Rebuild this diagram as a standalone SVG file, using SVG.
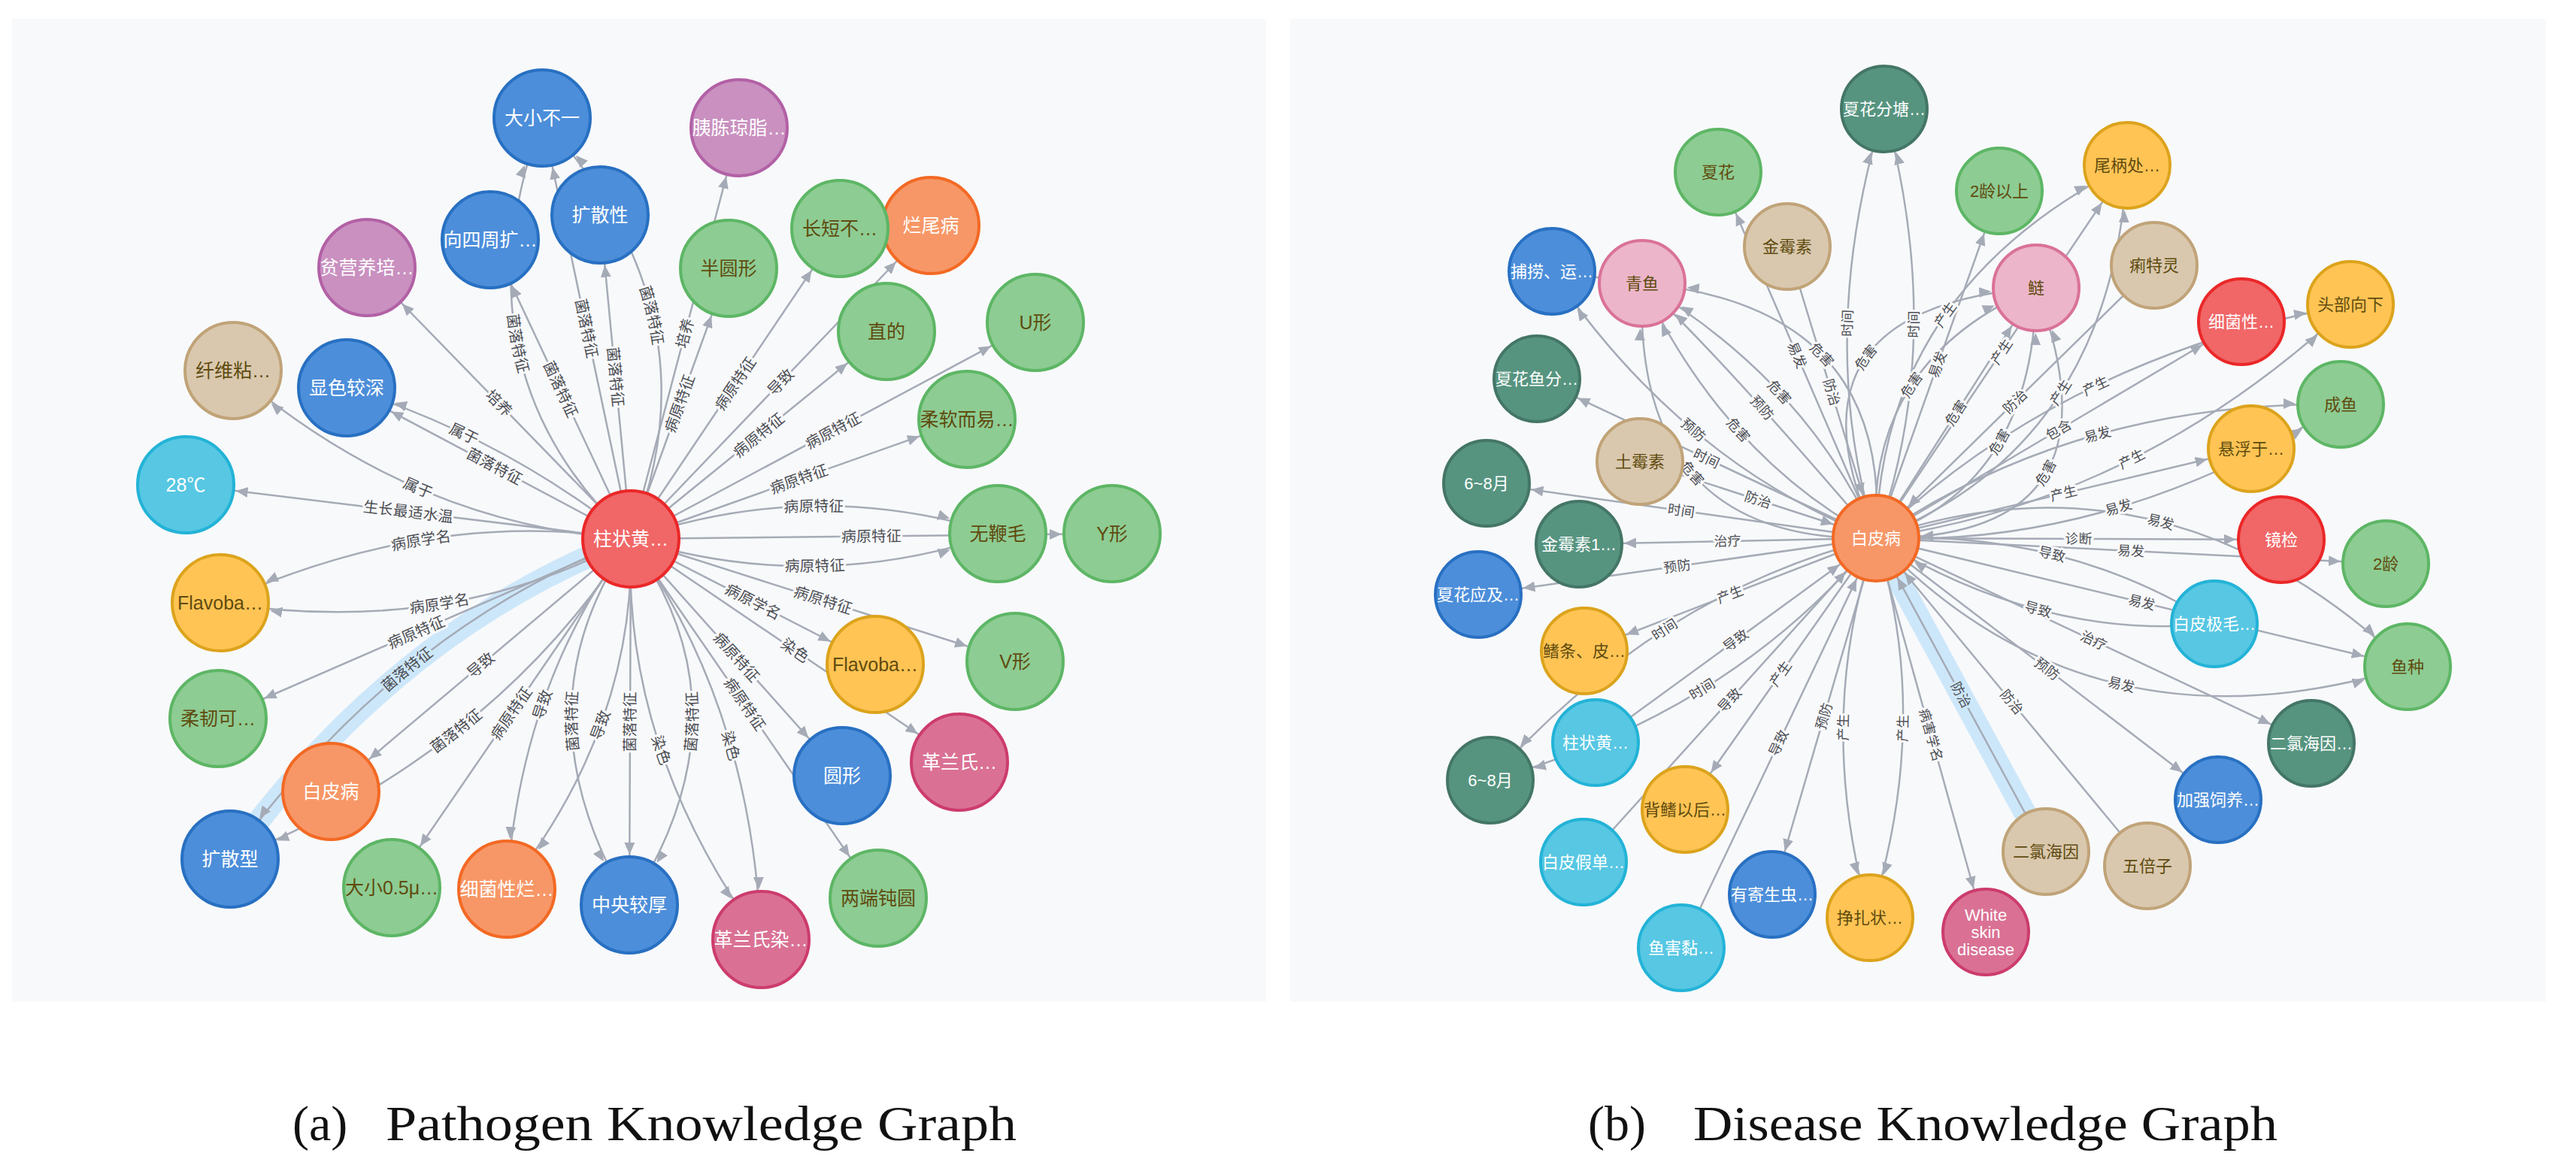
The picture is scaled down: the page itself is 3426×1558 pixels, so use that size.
<svg xmlns="http://www.w3.org/2000/svg" width="3426" height="1558" viewBox="0 0 3426 1558">
<style>
.e{fill:none;stroke:#a5abb6;stroke-width:2.5}
.aL{marker-end:url(#mL)}
.aR{marker-end:url(#mR)}
.hl{fill:none;stroke:#cde7fa;stroke-width:30;stroke-linecap:round}
.lb{font-family:"Liberation Sans","Noto Sans CJK SC",sans-serif;fill:#4d4f55;stroke:#f8f9fb;stroke-width:6px;paint-order:stroke;stroke-linejoin:round;text-anchor:middle}
.lL{font-size:20px}
.lR{font-size:18px}
.nd circle{stroke-width:4}
.nd text{font-family:"Liberation Sans","Noto Sans CJK SC",sans-serif;text-anchor:middle}
.nL text{font-size:25px}
.nR text{font-size:22px}
.w text{fill:#ffffff}
.k text{fill:#5f4b0f}
.blue circle{fill:#4c8eda;stroke:#2870c2}
.green circle{fill:#8dcc93;stroke:#5db665}
.purple circle{fill:#c990c0;stroke:#b261a5}
.tan circle{fill:#d9c8ae;stroke:#c0a378}
.cyan circle{fill:#57c7e3;stroke:#23b3d7}
.yellow circle{fill:#ffc454;stroke:#dca31c}
.orange circle{fill:#f79767;stroke:#f36924}
.red circle{fill:#f16667;stroke:#eb2728}
.mag circle{fill:#da7194;stroke:#cc3c6c}
.dg circle{fill:#569480;stroke:#447666}
.pink circle{fill:#ecb5c9;stroke:#da7298}
.cap{font-family:"Liberation Serif",serif;font-size:66px;fill:#111111}
</style>
<defs>
<marker id="mL" viewBox="0 0 100 14" markerWidth="100" markerHeight="14" refX="83" refY="7" orient="auto" markerUnits="userSpaceOnUse"><path d="M0,0 L16,7 L0,14 Z" fill="#a5abb6"/></marker>
<marker id="mR" viewBox="0 0 100 14" markerWidth="100" markerHeight="14" refX="76" refY="7" orient="auto" markerUnits="userSpaceOnUse"><path d="M0,0 L16,7 L0,14 Z" fill="#a5abb6"/></marker>
<path id="le1" d="M247,645 L839,717"/>
<path id="le2" d="M310,493 Q549,699 839,717"/>
<path id="le3" d="M461,516 Q669,581 839,717"/>
<path id="le4" d="M461,516 L839,717"/>
<path id="le5" d="M488,356 L839,717"/>
<path id="le6" d="M652,319 L839,717"/>
<path id="le7" d="M721,157 Q598,491 839,717"/>
<path id="le8" d="M721,157 L839,717"/>
<path id="le9" d="M721,157 Q960,421 839,717"/>
<path id="le10" d="M798,286 L839,717"/>
<path id="le28" d="M837,1204 L839,717"/>
<path id="le29" d="M837,1204 Q1004,947 839,717"/>
<path id="le30" d="M837,1204 Q682,942 839,717"/>
<path id="le31" d="M674,1183 Q692,908 839,717"/>
<path id="le32" d="M674,1183 Q846,966 839,717"/>
<path id="le33" d="M521,1181 L839,717"/>
<path id="le34" d="M440,1053 L839,717"/>
<path id="le35" d="M306,1143 Q656,1004 839,717"/>
<path id="le36" d="M306,1143 Q525,838 839,717"/>
<path id="le37" d="M290,956 L839,717"/>
<path id="le38" d="M293,802 Q597,849 839,717"/>
<path id="le39" d="M293,802 Q570,675 839,717"/>
<path id="lr3" d="M2285,229 L2495,716"/>
<path id="lr5" d="M2184,377 Q2517,408 2495,716"/>
<path id="lr6" d="M2184,377 Q2403,508 2495,716"/>
<path id="lr7" d="M2184,377 Q2285,470 2495,716"/>
<path id="lr8" d="M2184,377 Q2295,610 2495,716"/>
<path id="lr9" d="M2184,377 Q2170,723 2495,716"/>
<path id="lr10" d="M2064,361 Q2237,616 2495,716"/>
<path id="lr12" d="M2044,504 L2495,716"/>
<path id="lr16" d="M1977,643 L2495,716"/>
<path id="lr17" d="M2100,724 L2495,716"/>
<path id="lr18" d="M1966,791 L2495,716"/>
<path id="lr19" d="M2107,866 L2495,716"/>
<path id="lr20" d="M1982,1038 Q2204,789 2495,716"/>
<path id="lr21" d="M1982,1038 Q2303,949 2495,716"/>
<path id="lr24" d="M2241,1077 L2495,716"/>
<path id="lr26" d="M2357,1190 L2495,716"/>
<path id="lr27" d="M2487,1221 Q2412,957 2495,716"/>
<path id="lr28" d="M2487,1221 Q2571,957 2495,716"/>
<path id="lr30" d="M2495,716 L2721,1133"/>
<path id="lr31" d="M2495,716 L2856,1152"/>
<path id="lr36" d="M2495,716 Q2716,853 2945,830"/>
<path id="lr37" d="M2495,716 Q2750,705 2945,830"/>
<path id="lr49" d="M2495,716 L2865,353"/>
</defs>
<rect x="0" y="0" width="3426" height="1558" fill="#ffffff"/>
<rect x="16" y="25" width="1668" height="1308" fill="#f8f9fb"/>
<rect x="1716" y="25" width="1670" height="1308" fill="#f8f9fb"/>
<g id="captions">
<text class="cap" y="1517"><tspan x="389">(a)</tspan><tspan x="513" textLength="839" lengthAdjust="spacingAndGlyphs">Pathogen Knowledge Graph</tspan></text>
<text class="cap" y="1517"><tspan x="2112">(b)</tspan><tspan x="2252" textLength="777" lengthAdjust="spacingAndGlyphs">Disease Knowledge Graph</tspan></text>
</g>
<g id="highlights">
<path class="hl" d="M839,717 Q525,838 306,1143"/>
<path class="hl" d="M2721,1133 L2495,716"/>
</g>
<g id="connectors">
<path id="e1" class="e aL" d="M839,717 L247,645"/>
<path id="e2" class="e aL" d="M839,717 Q549,699 310,493"/>
<path id="e3" class="e aL" d="M839,717 Q669,581 461,516"/>
<path id="e4" class="e aL" d="M839,717 L461,516"/>
<path id="e5" class="e aL" d="M839,717 L488,356"/>
<path id="e6" class="e aL" d="M839,717 L652,319"/>
<path id="e7" class="e aL" d="M839,717 Q598,491 721,157"/>
<path id="e8" class="e aL" d="M839,717 L721,157"/>
<path id="e9" class="e aL" d="M839,717 Q960,421 721,157"/>
<path id="e10" class="e aL" d="M839,717 L798,286"/>
<path id="e11" class="e aL" d="M839,717 L983,170"/>
<path id="e12" class="e aL" d="M839,717 L969,357"/>
<path id="e13" class="e aL" d="M839,717 L1117,304"/>
<path id="e14" class="e aL" d="M839,717 L1238,300"/>
<path id="e15" class="e aL" d="M839,717 L1179,441"/>
<path id="e16" class="e aL" d="M839,717 L1377,429"/>
<path id="e17" class="e aL" d="M839,717 L1286,558"/>
<path id="e18" class="e aL" d="M839,717 Q1083,633 1327,710"/>
<path id="e19" class="e aL" d="M839,717 L1479,710"/>
<path id="e20" class="e aL" d="M839,717 Q1083,793 1327,710"/>
<path id="e21" class="e aL" d="M839,717 L1350,880"/>
<path id="e22" class="e aL" d="M839,717 L1164,884"/>
<path id="e23" class="e aL" d="M839,717 L1276,1014"/>
<path id="e24" class="e aL" d="M839,717 L1120,1032"/>
<path id="e25" class="e aL" d="M839,717 L1168,1195"/>
<path id="e26" class="e aL" d="M839,717 Q1000,941 1012,1250"/>
<path id="e27" class="e aL" d="M839,717 Q827,995 1012,1250"/>
<path id="e28" class="e aL" d="M839,717 L837,1204"/>
<path id="e29" class="e aL" d="M839,717 Q1004,947 837,1204"/>
<path id="e30" class="e aL" d="M839,717 Q682,942 837,1204"/>
<path id="e31" class="e aL" d="M839,717 Q692,908 674,1183"/>
<path id="e32" class="e aL" d="M839,717 Q846,966 674,1183"/>
<path id="e33" class="e aL" d="M839,717 L521,1181"/>
<path id="e34" class="e aL" d="M839,717 L440,1053"/>
<path id="e35" class="e aL" d="M839,717 Q656,1004 306,1143"/>
<path id="e36" class="e aL" d="M839,717 Q525,838 306,1143"/>
<path id="e37" class="e aL" d="M839,717 L290,956"/>
<path id="e38" class="e aL" d="M839,717 Q597,849 293,802"/>
<path id="e39" class="e aL" d="M839,717 Q570,675 293,802"/>
<path id="r1" class="e aR" d="M2495,716 Q2413,450 2506,145"/>
<path id="r2" class="e aR" d="M2495,716 Q2590,450 2506,145"/>
<path id="r3" class="e aR" d="M2495,716 L2285,229"/>
<path id="r4" class="e aR" d="M2377,328 L2495,716"/>
<path id="r5" class="e aR" d="M2495,716 Q2517,408 2184,377"/>
<path id="r6" class="e aR" d="M2495,716 Q2403,508 2184,377"/>
<path id="r7" class="e aR" d="M2495,716 Q2285,470 2184,377"/>
<path id="r8" class="e aR" d="M2495,716 Q2295,610 2184,377"/>
<path id="r9" class="e aR" d="M2495,716 Q2170,723 2184,377"/>
<path id="r10" class="e aR" d="M2495,716 Q2237,616 2064,361"/>
<path id="r11" class="e aR" d="M2184,377 L2064,361"/>
<path id="r12" class="e aR" d="M2495,716 L2044,504"/>
<path id="r15" class="e aR" d="M2181,614 L2495,716"/>
<path id="r16" class="e aR" d="M2495,716 L1977,643"/>
<path id="r17" class="e aR" d="M2495,716 L2100,724"/>
<path id="r18" class="e aR" d="M2495,716 L1966,791"/>
<path id="r19" class="e aR" d="M2495,716 L2107,866"/>
<path id="r20" class="e aR" d="M2495,716 Q2204,789 1982,1038"/>
<path id="r21" class="e aR" d="M2495,716 Q2303,949 1982,1038"/>
<path id="r22" class="e aR" d="M2122,988 L2495,716"/>
<path id="r23" class="e aR" d="M2106,1147 L2495,716"/>
<path id="r24" class="e aR" d="M2495,716 L2241,1077"/>
<path id="r25" class="e aR" d="M2236,1261 L2495,716"/>
<path id="r26" class="e aR" d="M2495,716 L2357,1190"/>
<path id="r27" class="e aR" d="M2495,716 Q2412,957 2487,1221"/>
<path id="r28" class="e aR" d="M2495,716 Q2571,957 2487,1221"/>
<path id="r29" class="e aR" d="M2495,716 L2641,1240"/>
<path id="r30" class="e aR" d="M2721,1133 L2495,716"/>
<path id="r31" class="e aR" d="M2856,1152 L2495,716"/>
<path id="r32" class="e aR" d="M2495,716 L2950,1064"/>
<path id="r33" class="e aR" d="M2495,716 L3074,989"/>
<path id="r34" class="e aR" d="M2495,716 Q2780,1017 3202,887"/>
<path id="r35" class="e aR" d="M2495,716 L3202,887"/>
<path id="r36" class="e aR" d="M2945,830 Q2716,853 2495,716"/>
<path id="r37" class="e aR" d="M2945,830 Q2750,705 2495,716"/>
<path id="r38" class="e aR" d="M2495,716 L3034,718"/>
<path id="r39" class="e aR" d="M2495,716 L3173,750"/>
<path id="r40" class="e aR" d="M2495,716 Q2882,583 3202,887"/>
<path id="r41" class="e aR" d="M2495,716 Q2812,729 3113,538"/>
<path id="r42" class="e aR" d="M2495,716 Q2762,533 3113,538"/>
<path id="r43" class="e aR" d="M2495,716 L2994,597"/>
<path id="r44" class="e aR" d="M2495,716 Q2835,719 2708,383"/>
<path id="r45" class="e aR" d="M2495,716 Q2846,668 3126,405"/>
<path id="r46" class="e aR" d="M2495,716 Q2744,476 3126,405"/>
<path id="r47" class="e aR" d="M2495,716 L2981,428"/>
<path id="r48" class="e aR" d="M2495,716 Q2808,594 2829,220"/>
<path id="r49" class="e aR" d="M2865,353 L2495,716"/>
<path id="r50" class="e aR" d="M2495,716 Q2705,647 2708,383"/>
<path id="r51" class="e aR" d="M2495,716 L2708,383"/>
<path id="r52" class="e aR" d="M2495,716 L2829,220"/>
<path id="r53" class="e aR" d="M2495,716 Q2502,384 2829,220"/>
<path id="r54" class="e aR" d="M2495,716 Q2355,411 2708,383"/>
<path id="r55" class="e aR" d="M2495,716 L2659,254"/>
<path id="r56" class="e aR" d="M2495,716 Q2480,480 2708,383"/>
<g class="lb lL">
<text dy="0.35em"><textPath href="#le1" startOffset="50%">生长最适水温</textPath></text>
<text dy="0.35em"><textPath href="#le2" startOffset="50%">属于</textPath></text>
<text dy="0.35em"><textPath href="#le3" startOffset="39%">属于</textPath></text>
<text dy="0.35em"><textPath href="#le4" startOffset="52%">菌落特征</textPath></text>
<text dy="0.35em"><textPath href="#le5" startOffset="50%">培养</textPath></text>
<text dy="0.35em"><textPath href="#le6" startOffset="50%">菌落特征</textPath></text>
<text dy="0.35em"><textPath href="#le7" startOffset="50%">菌落特征</textPath></text>
<text dy="0.35em"><textPath href="#le8" startOffset="50%">菌落特征</textPath></text>
<text dy="0.35em"><textPath href="#le9" startOffset="50%">菌落特征</textPath></text>
<text dy="0.35em"><textPath href="#le10" startOffset="50%">菌落特征</textPath></text>
<text dy="0.35em"><textPath href="#e11" startOffset="50%">培养</textPath></text>
<text dy="0.35em"><textPath href="#e12" startOffset="50%">病原特征</textPath></text>
<text dy="0.35em"><textPath href="#e13" startOffset="50%">病原特征</textPath></text>
<text dy="0.35em"><textPath href="#e14" startOffset="50%">导致</textPath></text>
<text dy="0.35em"><textPath href="#e15" startOffset="50%">病原特征</textPath></text>
<text dy="0.35em"><textPath href="#e16" startOffset="50%">病原特征</textPath></text>
<text dy="0.35em"><textPath href="#e17" startOffset="50%">病原特征</textPath></text>
<text dy="0.35em"><textPath href="#e18" startOffset="50%">病原特征</textPath></text>
<text dy="0.35em"><textPath href="#e19" startOffset="50%">病原特征</textPath></text>
<text dy="0.35em"><textPath href="#e20" startOffset="50%">病原特征</textPath></text>
<text dy="0.35em"><textPath href="#e21" startOffset="50%">病原特征</textPath></text>
<text dy="0.35em"><textPath href="#e22" startOffset="50%">病原学名</textPath></text>
<text dy="0.35em"><textPath href="#e23" startOffset="50%">染色</textPath></text>
<text dy="0.35em"><textPath href="#e24" startOffset="50%">病原特征</textPath></text>
<text dy="0.35em"><textPath href="#e25" startOffset="46%">病原特征</textPath></text>
<text dy="0.35em"><textPath href="#e26" startOffset="54%">染色</textPath></text>
<text dy="0.35em"><textPath href="#e27" startOffset="50%">染色</textPath></text>
<text dy="0.35em"><textPath href="#le28" startOffset="50%">菌落特征</textPath></text>
<text dy="0.35em"><textPath href="#le29" startOffset="50%">菌落特征</textPath></text>
<text dy="0.35em"><textPath href="#le30" startOffset="50%">菌落特征</textPath></text>
<text dy="0.35em"><textPath href="#le31" startOffset="50%">导致</textPath></text>
<text dy="0.35em"><textPath href="#le32" startOffset="50%">导致</textPath></text>
<text dy="0.35em"><textPath href="#le33" startOffset="50%">病原特征</textPath></text>
<text dy="0.35em"><textPath href="#le34" startOffset="50%">导致</textPath></text>
<text dy="0.35em"><textPath href="#le35" startOffset="50%">菌落特征</textPath></text>
<text dy="0.35em" style="stroke:#cde7fa"><textPath href="#le36" startOffset="50%">菌落特征</textPath></text>
<text dy="0.35em"><textPath href="#le37" startOffset="48%">病原特征</textPath></text>
<text dy="0.35em"><textPath href="#le38" startOffset="52%">病原学名</textPath></text>
<text dy="0.35em"><textPath href="#le39" startOffset="50%">病原学名</textPath></text>
</g>
<g class="lb lR">
<text dy="0.35em"><textPath href="#r1" startOffset="50%">时间</textPath></text>
<text dy="0.35em"><textPath href="#r2" startOffset="50%">时间</textPath></text>
<text dy="0.35em"><textPath href="#lr3" startOffset="50%">易发</textPath></text>
<text dy="0.35em"><textPath href="#r4" startOffset="50%">防治</textPath></text>
<text dy="0.35em"><textPath href="#lr5" startOffset="50%">危害</textPath></text>
<text dy="0.35em"><textPath href="#lr6" startOffset="50%">危害</textPath></text>
<text dy="0.35em"><textPath href="#lr7" startOffset="50%">预防</textPath></text>
<text dy="0.35em"><textPath href="#lr8" startOffset="50%">危害</textPath></text>
<text dy="0.35em"><textPath href="#lr9" startOffset="50%">危害</textPath></text>
<text dy="0.35em"><textPath href="#lr10" startOffset="50%">预防</textPath></text>
<text dy="0.35em"><textPath href="#lr12" startOffset="50%">时间</textPath></text>
<text dy="0.35em"><textPath href="#r15" startOffset="50%">防治</textPath></text>
<text dy="0.35em"><textPath href="#lr16" startOffset="50%">时间</textPath></text>
<text dy="0.35em"><textPath href="#lr17" startOffset="50%">治疗</textPath></text>
<text dy="0.35em"><textPath href="#lr18" startOffset="50%">预防</textPath></text>
<text dy="0.35em"><textPath href="#lr19" startOffset="50%">产生</textPath></text>
<text dy="0.35em"><textPath href="#lr20" startOffset="50%">时间</textPath></text>
<text dy="0.35em"><textPath href="#lr21" startOffset="50%">时间</textPath></text>
<text dy="0.35em"><textPath href="#r22" startOffset="50%">导致</textPath></text>
<text dy="0.35em"><textPath href="#r23" startOffset="50%">导致</textPath></text>
<text dy="0.35em"><textPath href="#lr24" startOffset="50%">产生</textPath></text>
<text dy="0.35em"><textPath href="#r25" startOffset="50%">导致</textPath></text>
<text dy="0.35em"><textPath href="#lr26" startOffset="50%">预防</textPath></text>
<text dy="0.35em"><textPath href="#lr27" startOffset="50%">产生</textPath></text>
<text dy="0.35em"><textPath href="#lr28" startOffset="50%">产生</textPath></text>
<text dy="0.35em"><textPath href="#r29" startOffset="50%">病害学名</textPath></text>
<text dy="0.35em" style="stroke:#cde7fa"><textPath href="#lr30" startOffset="50%">防治</textPath></text>
<text dy="0.35em"><textPath href="#lr31" startOffset="50%">防治</textPath></text>
<text dy="0.35em"><textPath href="#r32" startOffset="50%">预防</textPath></text>
<text dy="0.35em"><textPath href="#r33" startOffset="50%">治疗</textPath></text>
<text dy="0.35em"><textPath href="#r34" startOffset="50%">易发</textPath></text>
<text dy="0.35em"><textPath href="#r35" startOffset="50%">易发</textPath></text>
<text dy="0.35em"><textPath href="#lr36" startOffset="50%">导致</textPath></text>
<text dy="0.35em"><textPath href="#lr37" startOffset="50%">导致</textPath></text>
<text dy="0.35em"><textPath href="#r38" startOffset="50%">诊断</textPath></text>
<text dy="0.35em"><textPath href="#r39" startOffset="50%">易发</textPath></text>
<text dy="0.35em"><textPath href="#r40" startOffset="50%">易发</textPath></text>
<text dy="0.35em"><textPath href="#r41" startOffset="50%">易发</textPath></text>
<text dy="0.35em"><textPath href="#r42" startOffset="50%">易发</textPath></text>
<text dy="0.35em"><textPath href="#r43" startOffset="50%">产生</textPath></text>
<text dy="0.35em"><textPath href="#r44" startOffset="50%">危害</textPath></text>
<text dy="0.35em"><textPath href="#r45" startOffset="50%">产生</textPath></text>
<text dy="0.35em"><textPath href="#r46" startOffset="50%">产生</textPath></text>
<text dy="0.35em"><textPath href="#r47" startOffset="50%">包含</textPath></text>
<text dy="0.35em"><textPath href="#r48" startOffset="50%">产生</textPath></text>
<text dy="0.35em"><textPath href="#lr49" startOffset="50%">防治</textPath></text>
<text dy="0.35em"><textPath href="#r50" startOffset="50%">危害</textPath></text>
<text dy="0.35em"><textPath href="#r51" startOffset="50%">危害</textPath></text>
<text dy="0.35em"><textPath href="#r52" startOffset="50%">产生</textPath></text>
<text dy="0.35em"><textPath href="#r53" startOffset="50%">产生</textPath></text>
<text dy="0.35em"><textPath href="#r54" startOffset="50%">危害</textPath></text>
<text dy="0.35em"><textPath href="#r55" startOffset="50%">易发</textPath></text>
<text dy="0.35em"><textPath href="#r56" startOffset="50%">危害</textPath></text>
</g>
</g>
<g id="nodes-a">
<g id="n-daxiao" class="nd nL blue w"><circle cx="721" cy="157" r="64"/><text x="721" y="157" dy="0.35em">大小不一</text></g>
<g id="n-kuosanxing" class="nd nL blue w"><circle cx="798" cy="286" r="64"/><text x="798" y="286" dy="0.35em">扩散性</text></g>
<g id="n-xiangsizhou" class="nd nL blue w"><circle cx="652" cy="319" r="64"/><text x="652" y="319" dy="0.35em">向四周扩…</text></g>
<g id="n-pinyingyang" class="nd nL purple w"><circle cx="488" cy="356" r="64"/><text x="488" y="356" dy="0.35em">贫营养培…</text></g>
<g id="n-xianwei" class="nd nL tan k"><circle cx="310" cy="493" r="64"/><text x="310" y="493" dy="0.35em">纤维粘…</text></g>
<g id="n-xianse" class="nd nL blue w"><circle cx="461" cy="516" r="64"/><text x="461" y="516" dy="0.35em">显色较深</text></g>
<g id="n-28c" class="nd nL cyan w"><circle cx="247" cy="645" r="64"/><text x="247" y="645" dy="0.35em">28℃</text></g>
<g id="n-yidong" class="nd nL purple w"><circle cx="983" cy="170" r="64"/><text x="983" y="170" dy="0.35em">胰胨琼脂…</text></g>
<g id="n-banyuan" class="nd nL green k"><circle cx="969" cy="357" r="64"/><text x="969" y="357" dy="0.35em">半圆形</text></g>
<g id="n-lanweibing" class="nd nL orange w"><circle cx="1238" cy="300" r="64"/><text x="1238" y="300" dy="0.35em">烂尾病</text></g>
<g id="n-changduan" class="nd nL green k"><circle cx="1117" cy="304" r="64"/><text x="1117" y="304" dy="0.35em">长短不…</text></g>
<g id="n-zhide" class="nd nL green k"><circle cx="1179" cy="441" r="64"/><text x="1179" y="441" dy="0.35em">直的</text></g>
<g id="n-uxing" class="nd nL green k"><circle cx="1377" cy="429" r="64"/><text x="1377" y="429" dy="0.35em">U形</text></g>
<g id="n-rouruan" class="nd nL green k"><circle cx="1286" cy="558" r="64"/><text x="1286" y="558" dy="0.35em">柔软而易…</text></g>
<g id="n-wubianmao" class="nd nL green k"><circle cx="1327" cy="710" r="64"/><text x="1327" y="710" dy="0.35em">无鞭毛</text></g>
<g id="n-yxing" class="nd nL green k"><circle cx="1479" cy="710" r="64"/><text x="1479" y="710" dy="0.35em">Y形</text></g>
<g id="n-flavo-r" class="nd nL yellow k"><circle cx="1164" cy="884" r="64"/><text x="1164" y="884" dy="0.35em">Flavoba…</text></g>
<g id="n-vxing" class="nd nL green k"><circle cx="1350" cy="880" r="64"/><text x="1350" y="880" dy="0.35em">V形</text></g>
<g id="n-yuanxing" class="nd nL blue w"><circle cx="1120" cy="1032" r="64"/><text x="1120" y="1032" dy="0.35em">圆形</text></g>
<g id="n-gelan1" class="nd nL mag w"><circle cx="1276" cy="1014" r="64"/><text x="1276" y="1014" dy="0.35em">革兰氏…</text></g>
<g id="n-liangduan" class="nd nL green k"><circle cx="1168" cy="1195" r="64"/><text x="1168" y="1195" dy="0.35em">两端钝圆</text></g>
<g id="n-zhongyang" class="nd nL blue w"><circle cx="837" cy="1204" r="64"/><text x="837" y="1204" dy="0.35em">中央较厚</text></g>
<g id="n-gelan2" class="nd nL mag w"><circle cx="1012" cy="1250" r="64"/><text x="1012" y="1250" dy="0.35em">革兰氏染…</text></g>
<g id="n-flavo-l" class="nd nL yellow k"><circle cx="293" cy="802" r="64"/><text x="293" y="802" dy="0.35em">Flavoba…</text></g>
<g id="n-rouren" class="nd nL green k"><circle cx="290" cy="956" r="64"/><text x="290" y="956" dy="0.35em">柔韧可…</text></g>
<g id="n-baipibing-a" class="nd nL orange w"><circle cx="440" cy="1053" r="64"/><text x="440" y="1053" dy="0.35em">白皮病</text></g>
<g id="n-kuosanxing2" class="nd nL blue w"><circle cx="306" cy="1143" r="64"/><text x="306" y="1143" dy="0.35em">扩散型</text></g>
<g id="n-daxiao05" class="nd nL green k"><circle cx="521" cy="1181" r="64"/><text x="521" y="1181" dy="0.35em">大小0.5μ…</text></g>
<g id="n-xijunlan" class="nd nL orange w"><circle cx="674" cy="1183" r="64"/><text x="674" y="1183" dy="0.35em">细菌性烂…</text></g>
<g id="n-zhuzhuang" class="nd nL red w"><circle cx="839" cy="717" r="64"/><text x="839" y="717" dy="0.35em">柱状黄…</text></g>
</g>
<g id="nodes-b">
<g id="m-xiahuafen" class="nd nR dg w"><circle cx="2506" cy="145" r="57"/><text x="2506" y="145" dy="0.35em">夏花分塘…</text></g>
<g id="m-xiahua" class="nd nR green k"><circle cx="2285" cy="229" r="57"/><text x="2285" y="229" dy="0.35em">夏花</text></g>
<g id="m-jinmeisu" class="nd nR tan k"><circle cx="2377" cy="328" r="57"/><text x="2377" y="328" dy="0.35em">金霉素</text></g>
<g id="m-bulao" class="nd nR blue w"><circle cx="2064" cy="361" r="57"/><text x="2064" y="361" dy="0.35em">捕捞、运…</text></g>
<g id="m-qingyu" class="nd nR pink k"><circle cx="2184" cy="377" r="57"/><text x="2184" y="377" dy="0.35em">青鱼</text></g>
<g id="m-xiahuayu" class="nd nR dg w"><circle cx="2044" cy="504" r="57"/><text x="2044" y="504" dy="0.35em">夏花鱼分…</text></g>
<g id="m-tumeisu" class="nd nR tan k"><circle cx="2181" cy="614" r="57"/><text x="2181" y="614" dy="0.35em">土霉素</text></g>
<g id="m-68a" class="nd nR dg w"><circle cx="1977" cy="643" r="57"/><text x="1977" y="643" dy="0.35em">6~8月</text></g>
<g id="m-jinmeisu1" class="nd nR dg w"><circle cx="2100" cy="724" r="57"/><text x="2100" y="724" dy="0.35em">金霉素1…</text></g>
<g id="m-xiahuaying" class="nd nR blue w"><circle cx="1966" cy="791" r="57"/><text x="1966" y="791" dy="0.35em">夏花应及…</text></g>
<g id="m-qitiao" class="nd nR yellow k"><circle cx="2107" cy="866" r="57"/><text x="2107" y="866" dy="0.35em">鳍条、皮…</text></g>
<g id="m-zhuzhuang" class="nd nR cyan w"><circle cx="2122" cy="988" r="57"/><text x="2122" y="988" dy="0.35em">柱状黄…</text></g>
<g id="m-68b" class="nd nR dg w"><circle cx="1982" cy="1038" r="57"/><text x="1982" y="1038" dy="0.35em">6~8月</text></g>
<g id="m-beiqi" class="nd nR yellow k"><circle cx="2241" cy="1077" r="57"/><text x="2241" y="1077" dy="0.35em">背鳍以后…</text></g>
<g id="m-baipijia" class="nd nR cyan w"><circle cx="2106" cy="1147" r="57"/><text x="2106" y="1147" dy="0.35em">白皮假单…</text></g>
<g id="m-youji" class="nd nR blue w"><circle cx="2357" cy="1190" r="57"/><text x="2357" y="1190" dy="0.35em">有寄生虫…</text></g>
<g id="m-yuhai" class="nd nR cyan w"><circle cx="2236" cy="1261" r="57"/><text x="2236" y="1261" dy="0.35em">鱼害黏…</text></g>
<g id="m-zhengzha" class="nd nR yellow k"><circle cx="2487" cy="1221" r="57"/><text x="2487" y="1221" dy="0.35em">挣扎状…</text></g>
<g id="m-wsd" class="nd nR mag w"><circle cx="2641" cy="1240" r="57"/><text x="2641" y="1217" dy="0.35em">White</text><text x="2641" y="1240" dy="0.35em">skin</text><text x="2641" y="1263" dy="0.35em">disease</text></g>
<g id="m-erlv1" class="nd nR tan k"><circle cx="2721" cy="1133" r="57"/><text x="2721" y="1133" dy="0.35em">二氯海因</text></g>
<g id="m-wubeizi" class="nd nR tan k"><circle cx="2856" cy="1152" r="57"/><text x="2856" y="1152" dy="0.35em">五倍子</text></g>
<g id="m-jiaqiang" class="nd nR blue w"><circle cx="2950" cy="1064" r="57"/><text x="2950" y="1064" dy="0.35em">加强饲养…</text></g>
<g id="m-erlv2" class="nd nR dg w"><circle cx="3074" cy="989" r="57"/><text x="3074" y="989" dy="0.35em">二氯海因…</text></g>
<g id="m-yuzhong" class="nd nR green k"><circle cx="3202" cy="887" r="57"/><text x="3202" y="887" dy="0.35em">鱼种</text></g>
<g id="m-baipiji" class="nd nR cyan w"><circle cx="2945" cy="830" r="57"/><text x="2945" y="830" dy="0.35em">白皮极毛…</text></g>
<g id="m-2ling" class="nd nR green k"><circle cx="3173" cy="750" r="57"/><text x="3173" y="750" dy="0.35em">2龄</text></g>
<g id="m-jingjian" class="nd nR red w"><circle cx="3034" cy="718" r="57"/><text x="3034" y="718" dy="0.35em">镜检</text></g>
<g id="m-xuanfu" class="nd nR yellow k"><circle cx="2994" cy="597" r="57"/><text x="2994" y="597" dy="0.35em">悬浮于…</text></g>
<g id="m-chengyu" class="nd nR green k"><circle cx="3113" cy="538" r="57"/><text x="3113" y="538" dy="0.35em">成鱼</text></g>
<g id="m-toubu" class="nd nR yellow k"><circle cx="3126" cy="405" r="57"/><text x="3126" y="405" dy="0.35em">头部向下</text></g>
<g id="m-xijun" class="nd nR red w"><circle cx="2981" cy="428" r="57"/><text x="2981" y="428" dy="0.35em">细菌性…</text></g>
<g id="m-liteling" class="nd nR tan k"><circle cx="2865" cy="353" r="57"/><text x="2865" y="353" dy="0.35em">痢特灵</text></g>
<g id="m-lian" class="nd nR pink k"><circle cx="2708" cy="383" r="57"/><text x="2708" y="383" dy="0.35em">鲢</text></g>
<g id="m-weibing" class="nd nR yellow k"><circle cx="2829" cy="220" r="57"/><text x="2829" y="220" dy="0.35em">尾柄处…</text></g>
<g id="m-2lingyishang" class="nd nR green k"><circle cx="2659" cy="254" r="57"/><text x="2659" y="254" dy="0.35em">2龄以上</text></g>
<g id="m-baipibing" class="nd nR orange w"><circle cx="2495" cy="716" r="57"/><text x="2495" y="716" dy="0.35em">白皮病</text></g>
</g>
</svg>
